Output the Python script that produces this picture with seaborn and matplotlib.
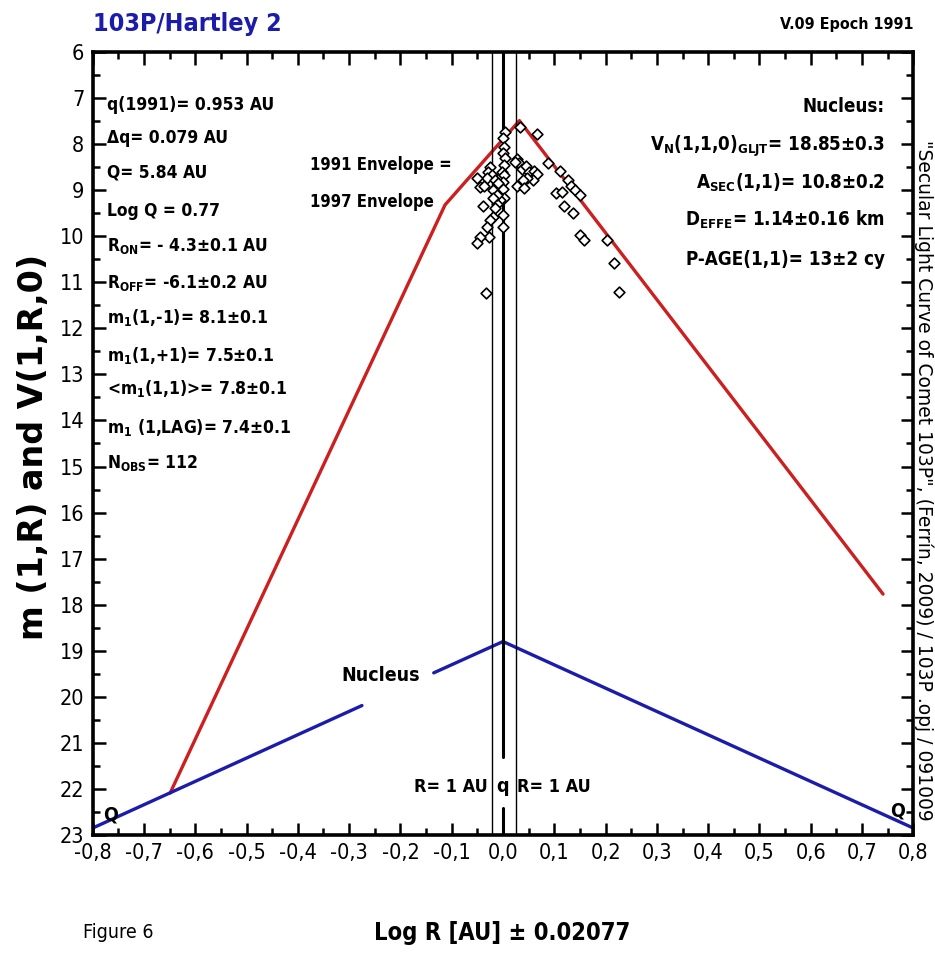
import matplotlib
matplotlib.use("Agg")
import matplotlib.pyplot as plt
from matplotlib import font_manager as fm
from matplotlib.ticker import MultipleLocator, FuncFormatter
import seaborn as sns
import pandas as pd

# ---------------- data ----------------
pts_x = [0.0655, 0.0882, 0.1110, 0.1272, 0.1318, 0.1402, 0.1500, 0.1032, 0.1142, 0.1188,
         0.1357, 0.1500, 0.1578, 0.2019, 0.2162, 0.2266,
         0.0265, 0.0317, 0.0363, 0.0447, 0.0512, 0.0603, 0.0668, 0.0590, 0.0460, 0.0382,
         0.0278, 0.0408, 0.0330, 0.0233,
         0.0038, 0.0005, 0.0018, -0.0008, 0.0038, 0.0018, -0.0027, 0.0018, 0.0005, -0.0008,
         0.0018, -0.0060, -0.0125, -0.0157, 0.0005, -0.0190, -0.0255, -0.0320, -0.0008, -0.0268,
         -0.0450, -0.0502, -0.0333, -0.0398, -0.0255, -0.0287, -0.0222, -0.0320, -0.0515, -0.0450,
         -0.0372, -0.0157, -0.0092, -0.0190, -0.0125, -0.0190]
pts_y = [7.77, 8.40, 8.58, 8.78, 8.91, 9.00, 9.11, 9.07, 9.03, 9.34,
         9.50, 9.97, 10.08, 10.08, 10.59, 11.20,
         8.33, 8.42, 8.53, 8.48, 8.60, 8.58, 8.65, 8.77, 8.74, 8.78,
         8.91, 8.96, 7.62, 8.38,
         7.73, 7.87, 8.06, 8.20, 8.31, 8.45, 8.60, 8.67, 8.82, 8.98,
         9.18, 9.21, 9.29, 9.39, 9.54, 9.58, 9.65, 9.79, 9.81, 10.01,
         10.01, 10.14, 11.24, 9.34, 8.49, 8.60, 8.67, 8.74, 8.74, 8.94,
         8.92, 8.78, 8.85, 9.00, 9.11, 9.18]

red_x = [-0.649, -0.113, 0.032, 0.741]
red_y = [22.09, 9.32, 7.49, 17.77]

blue_left_x = [-0.80, -0.275]
blue_left_y = [22.85, 20.19]
blue_right_x = [-0.135, 0.0, 0.80]
blue_right_y = [19.48, 18.80, 22.85]

thin_lines_x = [-0.021, 0.026]
q_line_x = 0.0

q_marks_x = [-0.766, 0.770]
q_marks_y = [22.57, 22.49]

left_lines = [
    "q(1991)= 0.953 AU",
    "Δq= 0.079 AU",
    "Q= 5.84 AU",
    "Log Q = 0.77",
    r"R$_{ON}$= - 4.3±0.1 AU",
    r"R$_{OFF}$= -6.1±0.2 AU",
    r"m$_1$(1,-1)= 8.1±0.1",
    r"m$_1$(1,+1)= 7.5±0.1",
    r"<m$_1$(1,1)>= 7.8±0.1",
    r"m$_1$ (1,LAG)= 7.4±0.1",
    r"N$_{OBS}$= 112",
]
left_y = [7.08, 7.80, 8.56, 9.39, 10.15, 10.95, 11.71, 12.53, 13.26, 14.10, 14.86]

right_lines = [
    "Nucleus:",
    r"V$_N$(1,1,0)$_{GLJT}$= 18.85±0.3",
    r"A$_{SEC}$(1,1)= 10.8±0.2",
    r"D$_{EFFE}$= 1.14±0.16 km",
    "P-AGE(1,1)= 13±2 cy",
]
right_y = [7.11, 7.95, 8.78, 9.58, 10.44]

# ---------------- fonts ----------------
sns.set_style("white")
ttf = fm.fontManager.ttflist
names = {f.name for f in ttf}
if 'Liberation Sans Narrow' in names:
    NARROW, STRETCH = 'Liberation Sans Narrow', 'normal'
elif any(f.name == 'DejaVu Sans' and str(f.stretch) in ('condensed', 'semi-condensed') for f in ttf):
    NARROW, STRETCH = 'DejaVu Sans', 'condensed'
elif 'Roboto Condensed' in names:
    NARROW, STRETCH = 'Roboto Condensed', 'normal'
else:
    NARROW, STRETCH = 'Roboto', 'normal'

plt.rcParams['font.family'] = [NARROW, 'DejaVu Sans']
plt.rcParams['font.stretch'] = STRETCH
plt.rcParams['mathtext.default'] = 'regular'
plt.rcParams['text.color'] = 'black'
plt.rcParams['xtick.color'] = 'black'
plt.rcParams['ytick.color'] = 'black'

RED = '#cc1f1f'
BLUE = '#1c1caa'

fig = plt.figure(figsize=(9.35, 9.56), dpi=100)
ax = fig.add_axes([0.0991, 0.1266, 0.8777, 0.819])

# lines
sns.lineplot(x=red_x, y=red_y, sort=False, estimator=None, color=RED, lw=2.4, ax=ax)
sns.lineplot(x=blue_left_x, y=blue_left_y, sort=False, estimator=None, color=BLUE, lw=2.4, ax=ax)
sns.lineplot(x=blue_right_x, y=blue_right_y, sort=False, estimator=None, color=BLUE, lw=2.4, ax=ax)

# vertical lines
for xv in thin_lines_x:
    ax.axvline(xv, color='black', lw=1.0, zorder=3)
ax.axvline(q_line_x, ymin=(23 - 21.30) / 17, ymax=1, color='black', lw=2.2, zorder=3)
ax.axvline(q_line_x, ymin=0, ymax=(23 - 22.41) / 17, color='black', lw=2.2, zorder=3)

# observations
df = pd.DataFrame({'x': pts_x, 'y': pts_y})
sns.scatterplot(data=df, x='x', y='y', marker='D', s=30, facecolor='white',
                edgecolor='black', linewidth=1.2, zorder=4, ax=ax)

ax.set_xlim(-0.8, 0.8)
ax.set_ylim(23, 6)
ax.set_xlabel('')
ax.set_ylabel('')

ax.xaxis.set_major_locator(MultipleLocator(0.1))
ax.xaxis.set_minor_locator(MultipleLocator(0.05))
ax.yaxis.set_major_locator(MultipleLocator(1))
ax.yaxis.set_minor_locator(MultipleLocator(0.5))


def xfmt(v, pos):
    s = f"{v:.1f}"
    if s == "-0.0":
        s = "0.0"
    return s.replace('.', ',')


ax.xaxis.set_major_formatter(FuncFormatter(xfmt))
ax.yaxis.set_major_formatter(FuncFormatter(lambda v, p: f"{int(round(v))}"))

ax.tick_params(which='both', direction='in', top=True, right=True, bottom=True, left=True,
               color='black')
ax.tick_params(which='major', length=9, width=1.8, labelsize=15.5, pad=6)
ax.tick_params(which='minor', length=5, width=1.8)
for lab in ax.get_xticklabels() + ax.get_yticklabels():
    lab.set_fontfamily([NARROW, 'DejaVu Sans'])
    lab.set_fontstretch(STRETCH)
for sp in ax.spines.values():
    sp.set_linewidth(2.6)
    sp.set_color('black')

# text inside plot
for t, yv in zip(left_lines, left_y):
    ax.text(-0.772, yv + 0.17, t, fontsize=12.5, fontweight='bold', ha='left', va='baseline')
for t, yv in zip(right_lines, right_y):
    ax.text(0.7445, yv + 0.19, t, fontsize=13.5, fontweight='bold', ha='right', va='baseline')

ax.text(-0.376, 8.45, "1991 Envelope =", fontsize=12, fontweight='bold', ha='left', va='center')
ax.text(-0.376, 9.25, "1997 Envelope", fontsize=12, fontweight='bold', ha='left', va='center')
ax.text(-0.315, 19.53, "Nucleus", fontsize=14, fontweight='bold', ha='left', va='center')
ax.text(-0.029, 21.95, "R= 1 AU", fontsize=13, fontweight='bold', ha='right', va='center')
ax.text(0.0, 21.95, "q", fontsize=14, fontweight='bold', ha='center', va='center')
ax.text(0.028, 21.95, "R= 1 AU", fontsize=13, fontweight='bold', ha='left', va='center')
for qx, qy in zip(q_marks_x, q_marks_y):
    ax.text(qx, qy, "Q", fontsize=14, fontweight='bold', ha='center', va='center')

# figure texts
fig.text(93 / 935, 1 - 24 / 956, "103P/Hartley 2", fontsize=18, fontweight='bold',
         color=BLUE, ha='left', va='center')
fig.text(913 / 935, 1 - 24 / 956, "V.09 Epoch 1991", fontsize=11.5, fontweight='bold',
         ha='right', va='center')
fig.text(34 / 935, 1 - 447 / 956, "m (1,R) and V(1,R,0)", fontsize=24, fontweight='bold',
         rotation=90, ha='center', va='center', family=['DejaVu Sans'], fontstretch='normal')
fig.text(502 / 935, 1 - 933 / 956, "Log R [AU] ± 0.02077", fontsize=17, fontweight='bold',
         ha='center', va='center')
fig.text(83 / 935, 1 - 933 / 956, "Figure 6", fontsize=14, ha='left', va='center')
fig.text(924 / 935, 1 - 480 / 956,
         "\"Secular Light Curve of Comet 103P\", (Ferrín, 2009) / 103P .opj / 091009",
         fontsize=13.5, rotation=-90, ha='center', va='center',
         family=['DejaVu Sans'], fontstretch='normal')

fig.savefig("out.png", dpi=100, facecolor='white')
